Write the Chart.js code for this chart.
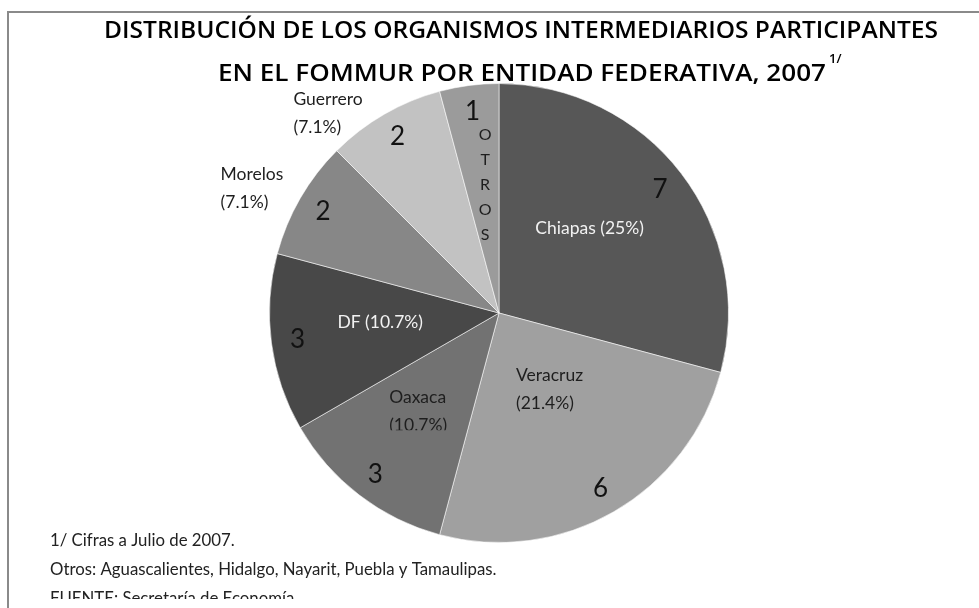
<!DOCTYPE html>
<html>
<head>
<meta charset="utf-8">
<script src="https://cdn.jsdelivr.net/npm/chart.js@4"></script>
<style>
  html, body { margin: 0; padding: 0; background: #fff; }
  canvas { display: block; }
</style>
</head>
<body>
<canvas id="ChartCanvas" width="979" height="608"></canvas>
<script>
// organismos intermediarios por entidad (valores del grafico)
const categories = ['Chiapas', 'Veracruz', 'Oaxaca', 'DF', 'Morelos', 'Guerrero', 'Otros'];
const counts = [7, 6, 3, 3, 2, 2, 1];
const shares = ['25%', '21.4%', '10.7%', '10.7%', '7.1%', '7.1%', null];
const sliceColors = ['#575757', '#a0a0a0', '#727272', '#484848', '#878787', '#c2c2c2', '#9b9b9b'];

const titleLines = ['DISTRIBUCIÓN DE LOS ORGANISMOS INTERMEDIARIOS PARTICIPANTES',
	'EN EL FOMMUR POR ENTIDAD FEDERATIVA, 2007'];
const notes = ['1/ Cifras a Julio de 2007.',
	'Otros: Aguascalientes, Hidalgo, Nayarit, Puebla y Tamaulipas.',
	'FUENTE: Secretaría de Economía.'];

// where each name label sits, polar from pie centre (deg from top, fraction of radius)
const nameLayout = [
	{ deg: 47, r: 0.54, color: '#f2f2f2', align: 'center', split: false },
	{ deg: 167.4, r: 0.34, color: '#1e1e1e', align: 'left', split: true },
	{ deg: 228.2, r: 0.642, color: '#1e1e1e', align: 'left', split: true, clip: 5 },
	{ deg: 265.7, r: 0.519, color: '#f2f2f2', align: 'center', split: false },
	{ deg: 294.2, r: 1.33, color: '#1e1e1e', align: 'left', split: true },
	{ deg: 314.1, r: 1.247, color: '#1e1e1e', align: 'left', split: true },
	{ deg: 353.8, r: 0.56, color: '#1e1e1e', align: 'vertical' }
];

const LABEL_FONT = '17.5px Lato';

function polar(arc, deg, frac) {
	let a = (deg - 90) * Math.PI / 180;
	return { x: arc.x + Math.cos(a) * arc.outerRadius * frac, y: arc.y + Math.sin(a) * arc.outerRadius * frac };
}

// draws text stretched/squeezed to fit [x0, x1]
function fitText(ctx, txt, x0, x1, y) {
	let w = ctx.measureText(txt).width;
	ctx.save();
	ctx.translate(x0, y);
	ctx.scale((x1 - x0) / w, 1);
	ctx.textAlign = 'left';
	ctx.fillText(txt, 0, 0);
	ctx.restore();
}

const pieLabels = {
	id: 'pieLabels',
	afterDatasetsDraw(chart) {
		let ctx = chart.ctx;
		let meta = chart.getDatasetMeta(0);
		ctx.save();
		ctx.textBaseline = 'middle';
		meta.data.forEach(function (el, i) {
			let arc = el.getProps(['x', 'y', 'startAngle', 'endAngle', 'outerRadius'], true);
			// value number
			let mid = (arc.startAngle + arc.endAngle) / 2;
			let r = arc.outerRadius * 0.885;
			ctx.font = '26px Lato';
			ctx.fillStyle = '#111';
			ctx.textAlign = 'center';
			ctx.fillText(String(counts[i]), arc.x + Math.cos(mid) * r, arc.y + Math.sin(mid) * r);

			// name label
			let lay = nameLayout[i];
			let p = polar(arc, lay.deg, lay.r);
			ctx.font = LABEL_FONT;
			ctx.fillStyle = lay.color;
			if (lay.align === 'vertical') {
				let letters = categories[i].toUpperCase().split('');
				ctx.font = '16px Lato';
				ctx.textAlign = 'center';
				letters.forEach(function (ch, k) {
					ctx.fillText(ch, p.x, p.y + (k - (letters.length - 1) / 2) * 25);
				});
				return;
			}
			let lines = lay.split ? [categories[i], '(' + shares[i] + ')'] : [categories[i] + ' (' + shares[i] + ')'];
			let lh = 28;
			ctx.textAlign = lay.align;
			ctx.save();
			if (lay.clip) {
				let lastY = p.y + (lines.length - 1) / 2 * lh;
				ctx.beginPath();
				ctx.rect(p.x - 200, p.y - 200, 400, lastY + lay.clip - (p.y - 200));
				ctx.clip();
			}
			lines.forEach(function (txt, k) {
				ctx.fillText(txt, p.x, p.y + (k - (lines.length - 1) / 2) * lh);
			});
			ctx.restore();
		});
		ctx.restore();
	}
};

const frameAndText = {
	id: 'frameAndText',
	afterDraw(chart) {
		let ctx = chart.ctx;
		ctx.save();
		// frame
		ctx.strokeStyle = '#8a8a8a';
		ctx.lineWidth = 2;
		ctx.beginPath();
		ctx.moveTo(979, 12);
		ctx.lineTo(8, 12);
		ctx.lineTo(8, 608);
		ctx.stroke();

		// title
		ctx.fillStyle = '#000';
		ctx.textBaseline = 'middle';
		ctx.font = '600 23px "Open Sans"';
		fitText(ctx, titleLines[0], 104, 938, 31);
		fitText(ctx, titleLines[1], 218, 826, 74);
		ctx.textAlign = 'left';
		ctx.font = '600 13px "Open Sans"';
		ctx.fillText('1/', 829, 59, 13);

		// notes
		ctx.beginPath();
		ctx.rect(0, 0, 979, 599);
		ctx.clip();
		ctx.font = '16.8px Lato';
		ctx.fillStyle = '#222';
		ctx.fillText(notes[0], 50, 541);
		ctx.fillText(notes[1], 50, 570);
		ctx.fillText(notes[2], 50, 599);
		ctx.restore();
	}
};

var ctx = document.getElementById('ChartCanvas').getContext('2d');
var chart = new Chart(ctx, {
	type: 'pie',
	data: {
		labels: categories,
		datasets: [{
			data: counts,
			backgroundColor: sliceColors,
			borderColor: 'rgba(255,255,255,0.55)',
			borderWidth: 1
		}]
	},
	options: {
		responsive: false,
		animation: false,
		layout: { padding: { top: 83, bottom: 65, left: 269, right: 250 } },
		plugins: {
			legend: { display: false },
			tooltip: { enabled: false }
		}
	},
	plugins: [pieLabels, frameAndText]
});
</script>
</body>
</html>
